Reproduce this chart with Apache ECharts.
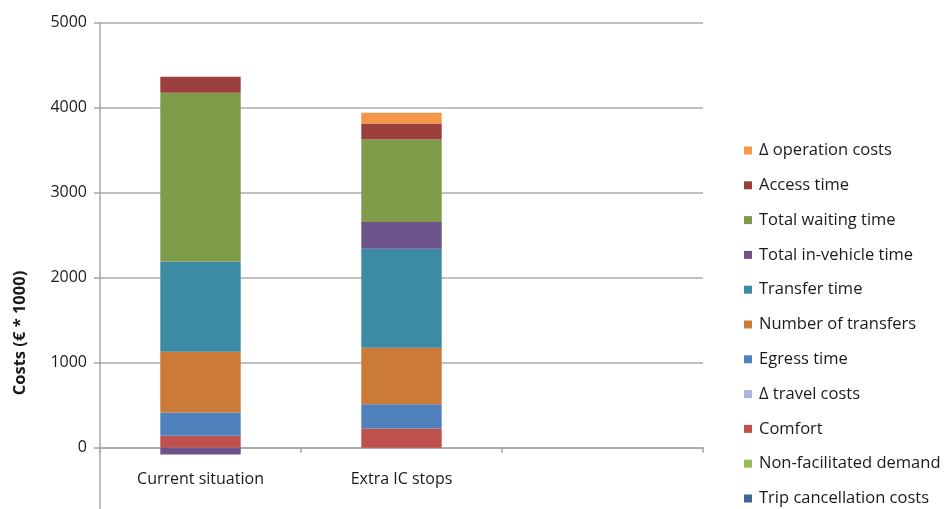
<!DOCTYPE html>
<html>
<head>
<meta charset="utf-8">
<script src="https://cdn.jsdelivr.net/npm/echarts@6/dist/echarts.min.js"></script>
<style>
  html, body { margin: 0; padding: 0; background: #fff; }
  #chart { width: 948px; height: 509px; }
</style>
</head>
<body>
<div id="chart"></div>
<script>
// Scenario categories (third slot is left empty on the axis)
const categories = ['Current situation', 'Extra IC stops', ''];

// Cost components in € * 1000, stacked from the bottom up
const tripCancellationCosts = [0, 0, null];
const nonFacilitatedDemand = [0, 0, null];
const comfort = [140, 225, null];
const travelCostsDelta = [0, 0, null];
const egressTime = [275, 287, null];
const numberOfTransfers = [715, 663, null];
const transferTime = [1060, 1165, null];
const totalInVehicleTime = [-80, 315, null];
const totalWaitingTime = [1985, 970, null];
const accessTime = [190, 190, null];
const operationCostsDelta = [0, 125, null];

const yTicks = [-1000, 0, 1000, 2000, 3000, 4000, 5000];

const seriesDefs = [
  { name: 'Trip cancellation costs', data: tripCancellationCosts, color: '#3F6597' },
  { name: 'Non-facilitated demand', data: nonFacilitatedDemand, color: '#9BBB59' },
  { name: 'Comfort', data: comfort, color: '#C0504D' },
  { name: 'Δ travel costs', data: travelCostsDelta, color: '#A7B8DA' },
  { name: 'Egress time', data: egressTime, color: '#4F81BD' },
  { name: 'Number of transfers', data: numberOfTransfers, color: '#CC7A38' },
  { name: 'Transfer time', data: transferTime, color: '#3A8BA3' },
  { name: 'Total in-vehicle time', data: totalInVehicleTime, color: '#6C548A' },
  { name: 'Total waiting time', data: totalWaitingTime, color: '#7F9A48' },
  { name: 'Access time', data: accessTime, color: '#9B3F3D' },
  { name: 'Δ operation costs', data: operationCostsDelta, color: '#F79646' }
];

const FONT = 'Open Sans';
const TEXT = '#1a1a1a';
const chart = echarts.init(document.getElementById('chart'), null, { renderer: 'canvas' });

chart.setOption({
  animation: false,
  textStyle: { fontFamily: FONT },
  // the -1000 gridline sits just below the visible area
  grid: { left: 100, top: 22.7, width: 603, height: 510, containLabel: false, outerBoundsMode: 'none' },
  xAxis: {
    type: 'category',
    data: categories,
    axisLine: { onZero: true, lineStyle: { color: '#A6A6A6', width: 1.5 } },
    axisTick: { show: true, length: 5, lineStyle: { color: '#A6A6A6', width: 1.5 } },
    // labels sit a little below the zero line
    axisLabel: { color: TEXT, fontSize: 16, margin: -61, fontFamily: FONT },
    splitLine: { show: false }
  },
  yAxis: {
    type: 'value',
    min: yTicks[0],
    max: yTicks[yTicks.length - 1],
    interval: 1000,
    axisLine: { show: true, lineStyle: { color: '#A6A6A6', width: 1.5 } },
    axisTick: { show: true, length: 6, lineStyle: { color: '#A6A6A6', width: 1.5 } },
    axisLabel: { color: TEXT, fontSize: 16, margin: 13, fontFamily: FONT, formatter: v => String(v) },
    splitLine: { show: true, lineStyle: { color: '#ABABAB', width: 1.5 } }
  },
  legend: {
    orient: 'vertical',
    left: 744,
    top: 142,
    padding: 0,
    icon: 'rect',
    itemWidth: 8,
    itemHeight: 8,
    itemGap: 17.8,
    data: seriesDefs.map(s => s.name).reverse(),
    textStyle: { color: TEXT, fontSize: 16.5, lineHeight: 16, fontFamily: FONT, padding: [0, 0, 0, 2] },
    selectedMode: false
  },
  graphic: [{
    type: 'text',
    x: 20,
    y: 333,
    rotation: Math.PI / 2,
    style: {
      text: 'Costs (€ * 1000)',
      font: 'bold 16.5px "Open Sans"',
      fill: TEXT,
      textAlign: 'center',
      textVerticalAlign: 'middle'
    }
  }],
  series: seriesDefs.map(s => ({
    name: s.name,
    type: 'bar',
    stack: 'costs',
    barWidth: '40%',
    data: s.data,
    itemStyle: { color: s.color }
  }))
});
</script>
</body>
</html>
